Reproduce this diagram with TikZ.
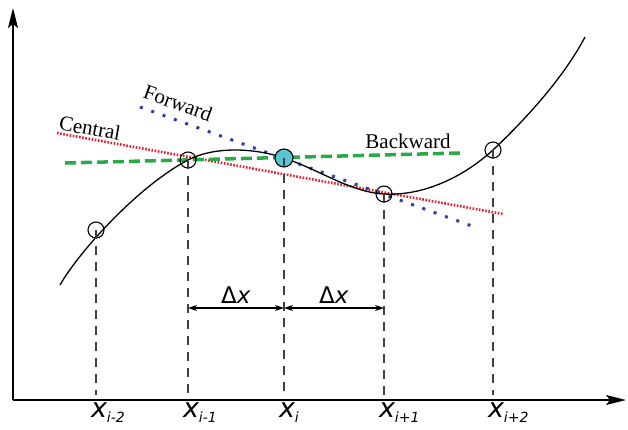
\documentclass[tikz,border=0pt]{standalone}
\usepackage{fontspec}
\setmainfont{Liberation Serif}
\newfontfamily\axisfont{DejaVu Sans}
\usetikzlibrary{arrows.meta}

\definecolor{ptcyan}{RGB}{90,196,210}
\definecolor{cenred}{RGB}{232,30,45}
\definecolor{fwdblue}{RGB}{45,65,165}
\definecolor{bwdgreen}{RGB}{40,170,70}

\tikzset{
  pt/.style={circle, draw=black, line width=1.1pt, minimum size=16pt, inner sep=0pt},
  guide/.style={dash pattern=on 9pt off 7pt, line width=1.2pt, black!75},
  tag/.style={font=\fontsize{21}{24}\selectfont},
  xlab/.style={anchor=north, inner sep=0pt, font=\axisfont\itshape\fontsize{27}{30}\selectfont},
  dlab/.style={midway, above=1pt, font=\axisfont\fontsize{23}{26}\selectfont},
}

\begin{document}
\begin{tikzpicture}[x=1pt, y=-1pt, >={Stealth[length=9pt,width=6pt]}]
    \useasboundingbox (0,0) rectangle (628,429);

    % axes
    \coordinate (o) at (13,400);
    \coordinate (ytop) at (13,8);
    \coordinate (xend) at (626,400);
    \coordinate (base) at (0,395);
    \coordinate (dx) at (0,308);
    \draw[-{Stealth[length=20pt,width=10pt,inset=4pt]}, line width=1.6pt] (o) -- (ytop);
    \draw[-{Stealth[length=20pt,width=10pt,inset=4pt]}, line width=1.6pt] (o) -- (xend);

    % difference lines
    \coordinate (c1) at (57,133);  \coordinate (c2) at (503,214);
    \coordinate (f1) at (140,107); \coordinate (f2) at (472,226);
    \coordinate (b1) at (65,163);  \coordinate (b2) at (460,153);
    \draw[cenred, line width=2.6pt, dash pattern=on 1.6pt off 1.6pt] (c1) -- (c2);
    \draw[fwdblue, line width=3pt, dash pattern=on 3pt off 9pt] (f1) -- (f2);
    \draw[bwdgreen, line width=3.5pt, dash pattern=on 11pt off 5pt] (b1) -- (b2);
    \node[tag, rotate=-10] (central) at (90,128) {Central};
    \node[tag, rotate=-20] (forward) at (178,103) {Forward};
    \node[tag] (backward) at (408,141) {Backward};

    % function
    \draw[line width=1.3pt] (60,285) .. controls (80,250) and (140,185) .. (188,160)
        .. controls (215,146) and (255,148) .. (284,158)
        .. controls (320,170) and (350,192) .. (384,194)
        .. controls (420,196) and (460,180) .. (493,150)
        .. controls (530,115) and (565,75) .. (585,37);

    % sample points
    \foreach \n/\x/\y in {m2/96/230, m1/188/160, p1/384/194, p2/493/150}
        \node[pt] (x\n) at (\x,\y) {};
    \node[pt, fill=ptcyan, minimum size=18pt] (xi) at (284,158) {};

    \foreach \n in {m2, m1, i, p1, p2}
        \draw[guide] (x\n.center) -- (x\n |- base);

    \draw[<->, line width=1.3pt] (xm1 |- dx) -- (xi |- dx) node[dlab] {Δ\textit{x}};
    \draw[<->, line width=1.3pt] (xi |- dx) -- (xp1 |- dx) node[dlab] {Δ\textit{x}};

    % axis labels
    \foreach \n/\s in {m2/i-2, m1/i-1, i/i, p1/i+1, p2/i+2}
        \node[xlab] (lab\n) at ([shift={(3pt,-3pt)}]x\n |- o) {x\rlap{\raisebox{-5pt}{\fontsize{14}{16}\selectfont\s}}};
\end{tikzpicture}
\end{document}
